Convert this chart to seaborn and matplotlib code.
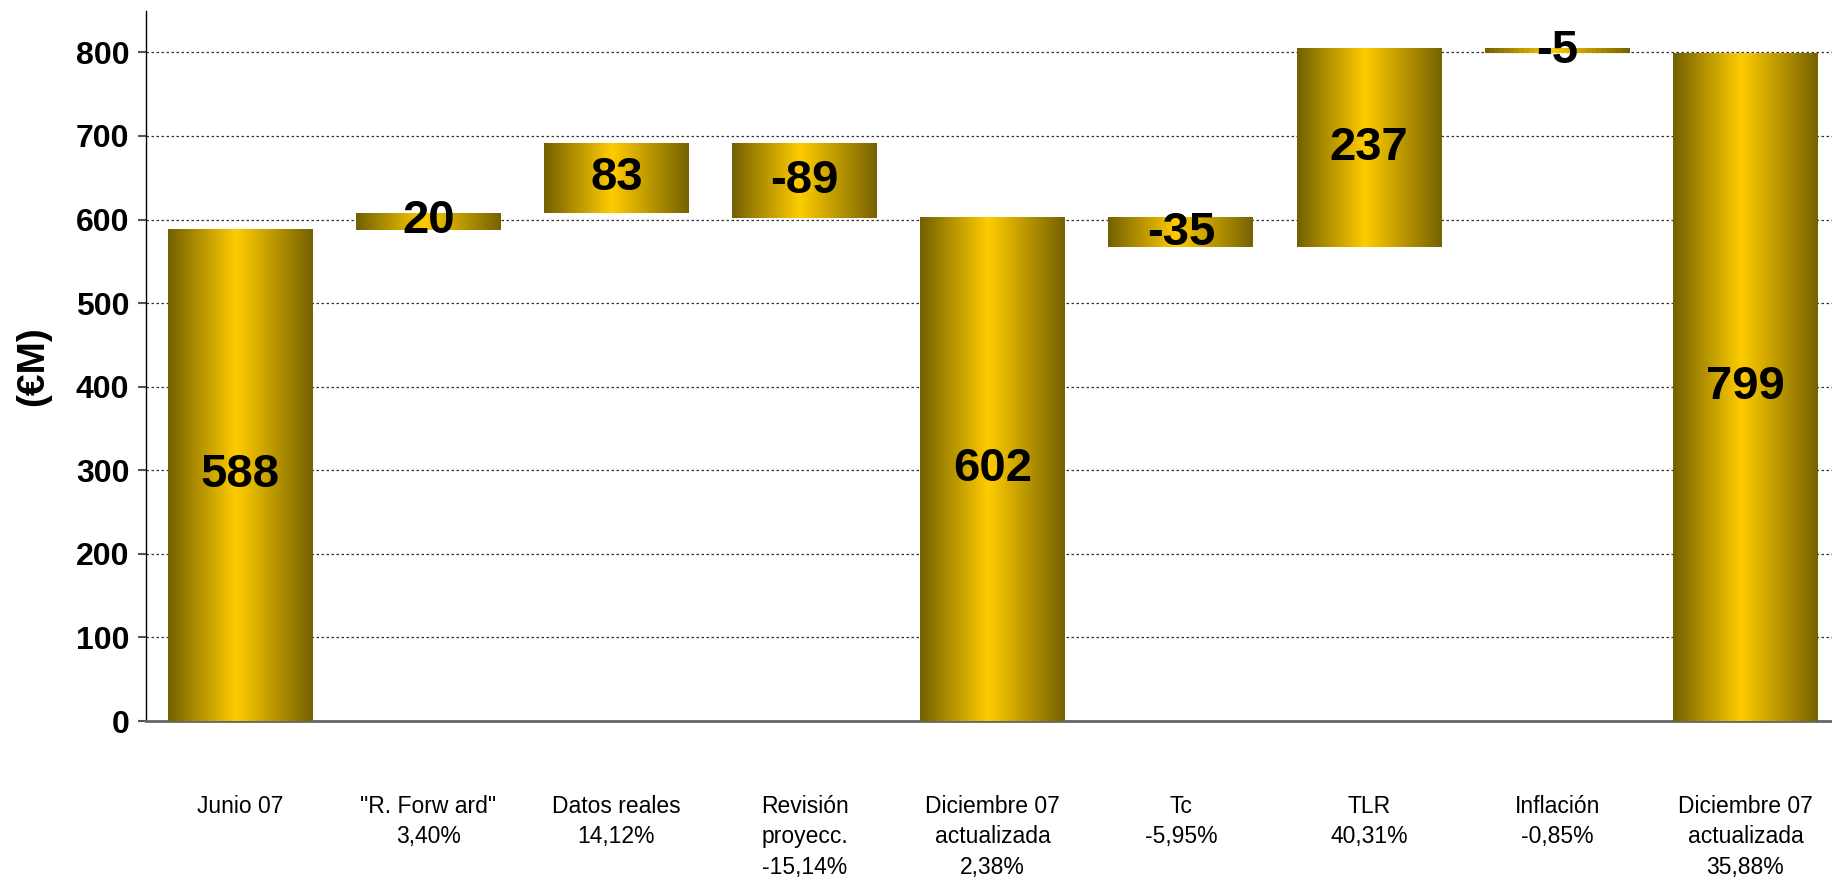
import numpy as np
import matplotlib
matplotlib.use("Agg")
import matplotlib.pyplot as plt
import seaborn as sns
from matplotlib.colors import LinearSegmentedColormap

# waterfall data (EUR M)
categories = ["Junio 07", "\"R. Forw ard\"\n3,40%", "Datos reales\n14,12%",
              "Revisión\nproyecc.\n-15,14%", "Diciembre 07\nactualizada\n2,38%",
              "Tc\n-5,95%", "TLR\n40,31%", "Inflación\n-0,85%",
              "Diciembre 07\nactualizada\n35,88%"]
bar_values = [588, 20, 83, -89, 602, -35, 237, -5, 799]
is_total = [True, False, False, False, True, False, False, False, True]
y_ticks = [0, 100, 200, 300, 400, 500, 600, 700, 800]

# running bottoms for the floating bars
bottoms = []
heights = []
level = 0
for v, tot in zip(bar_values, is_total):
    if tot:
        bottoms.append(0)
        heights.append(v)
        level = v
    else:
        lo = min(level, level + v)
        bottoms.append(lo)
        heights.append(abs(v))
        level += v

sns.set_style("white")
plt.rcParams["font.family"] = ["Liberation Sans Narrow", "Liberation Sans", "DejaVu Sans"]
plt.rcParams["text.color"] = "black"
plt.rcParams["axes.labelcolor"] = "black"
plt.rcParams["xtick.color"] = "black"
plt.rcParams["ytick.color"] = "black"

fig = plt.figure(figsize=(18.32, 8.85), dpi=100)
ax = fig.add_axes([0.0797, 0.1853, 0.9203, 0.8027])

sns.barplot(x=list(range(len(categories))), y=heights, bottom=bottoms,
            color="#ffcc00", width=0.77, native_scale=True, ax=ax, zorder=3)

gold = LinearSegmentedColormap.from_list(
    "gold", [(0.0, "#736000"), (0.47, "#ffcc00"), (1.0, "#766200")])
grad = np.linspace(0, 1, 256).reshape(1, -1)
for patch in ax.patches:
    x0, y0 = patch.get_x(), patch.get_y()
    w, h = patch.get_width(), patch.get_height()
    ax.imshow(grad, extent=[x0, x0 + w, y0, y0 + h], aspect="auto",
              cmap=gold, zorder=3, interpolation="bicubic")
    patch.set_visible(False)

for i, (v, b, h) in enumerate(zip(bar_values, bottoms, heights)):
    ax.text(i, b + h / 2, f"{v}", ha="center", va="center", fontsize=34,
            fontweight="bold", color="black", zorder=5)

ax.set_xlim(-0.5, 8.46)
ax.set_ylim(0, 850)
ax.set_yticks(y_ticks)
ax.set_yticklabels([str(t) for t in y_ticks], fontsize=23, fontweight="bold")
ax.set_xticks(range(len(categories)))
ax.set_xticklabels(categories, fontsize=16.5, linespacing=1.42, va="top")
ax.tick_params(axis="x", length=0, pad=53)
ax.tick_params(axis="y", length=6, width=1.5, color="#555555", pad=6, left=True)
ax.yaxis.grid(True, linestyle=(0, (2, 2)), color="#333333", linewidth=0.9)
ax.set_axisbelow(True)

for side in ["top", "right"]:
    ax.spines[side].set_visible(False)
ax.spines["left"].set_color("black")
ax.spines["left"].set_linewidth(1)
ax.spines["bottom"].set_color("#666666")
ax.spines["bottom"].set_linewidth(2)

ax.set_ylabel("(€M)", fontsize=28, fontweight="bold", labelpad=18)
ax.set_xlabel("")

fig.savefig("out.png", dpi=100)
plt.close(fig)
